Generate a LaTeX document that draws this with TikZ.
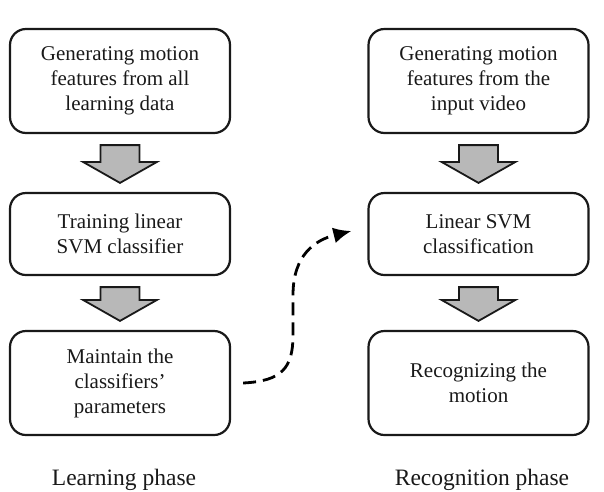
\documentclass[tikz,border=0pt]{standalone}
\usepackage{fontspec}
\setmainfont{Liberation Serif}
\usetikzlibrary{arrows.meta,positioning}
\tikzset{
  stepbox/.style={draw=black!90,line width=2.2pt,rounded corners=16pt,minimum width=220pt,align=center,
    font=\fontsize{21}{25}\selectfont,text=black!90},
  blockarr/.style={draw=black!90,line width=1.8pt,fill=black!28},
  phaselbl/.style={font=\fontsize{23.5}{28}\selectfont,text=black!90},
}
% gray block arrow from the bottom of #1 to the top of #2
\newcommand{\blockarrow}[2]{%
\draw[blockarr]([xshift=-19.5pt,yshift=-11pt]#1.south)--([xshift=19.5pt,yshift=-11pt]#1.south)
  --([xshift=19.5pt,yshift=30pt]#2.north)--([xshift=37pt,yshift=30pt]#2.north)--([yshift=9pt]#2.north)
  --([xshift=-37pt,yshift=30pt]#2.north)--([xshift=-19.5pt,yshift=30pt]#2.north)--cycle;}
\begin{document}
\begin{tikzpicture}[x=1pt,y=-1pt]
\useasboundingbox(0,0)rectangle(604,491);
\pgfmathsetmacro{\kleft}{120}
\pgfmathsetmacro{\kright}{478.5}
% learning phase
\node[stepbox,minimum height=104pt](lgen)at(\kleft,81){Generating motion\\features from all\\learning data};
\node[stepbox,minimum height=82pt](ltrain)at(\kleft,234){Training linear\\SVM classifier};
\node[stepbox,minimum height=104pt](lkeep)at(\kleft,383){Maintain the\\classifiers’\\parameters};
% recognition phase
\node[stepbox,minimum height=104pt](rgen)at(\kright,81){Generating motion\\features from the\\input video};
\node[stepbox,minimum height=82pt](rsvm)at(\kright,234){Linear SVM\\classification};
\node[stepbox,minimum height=104pt](rrec)at(\kright,383){Recognizing the\\motion};
\foreach \ka/\kb in {lgen/ltrain,ltrain/lkeep,rgen/rsvm,rsvm/rrec}{\blockarrow{\ka}{\kb}}
% parameters handed over
\coordinate(pstart)at([xshift=12pt]lkeep.east);
\coordinate(pend)at([xshift=-16pt,yshift=3pt]rsvm.west);
\draw[line width=2.8pt,dash pattern=on 13pt off 7pt,-{Latex[length=18pt,width=16pt]}](pstart)
  ..controls(282,381)and(293,368)..(293,335)--(293,295)
  ..controls(293,255)and(315,240)..(pend);
\node[phaselbl](llbl)at(124,480){Learning phase};
\node[phaselbl](rlbl)at(482,480){Recognition phase};
\end{tikzpicture}
\end{document}
